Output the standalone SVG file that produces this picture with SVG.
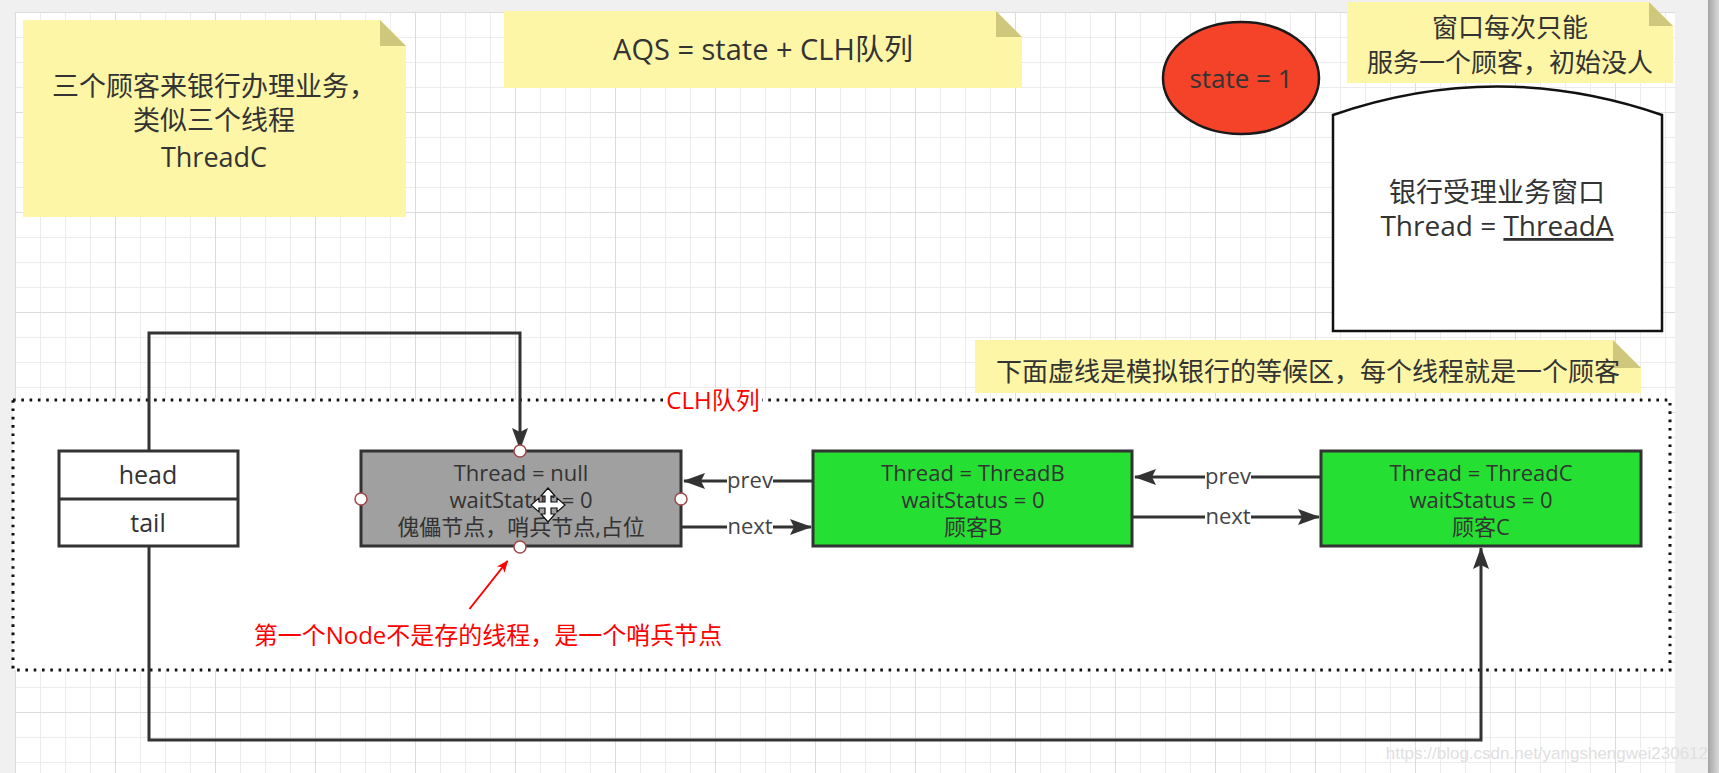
<svg xmlns="http://www.w3.org/2000/svg" width="1719" height="773" viewBox="0 0 1719 773">
<defs>
<pattern id="grid" x="15" y="12" width="100" height="100" patternUnits="userSpaceOnUse">
<path d="M25.5 0V100M50.5 0V100M75.5 0V100M0 25.5H100M0 50.5H100M0 75.5H100" stroke="#ececec" stroke-width="1" fill="none"/>
<path d="M0.5 0V100M0 0.5H100" stroke="#dcdcdc" stroke-width="1" fill="none"/>
</pattern>
<linearGradient id="edge" x1="0" x2="1" y1="0" y2="0"><stop offset="0" stop-color="#a4a4a4"/><stop offset="1" stop-color="#dadada"/></linearGradient>
<marker id="arr" viewBox="0 0 22 16" refX="21" refY="8" markerWidth="22" markerHeight="16" markerUnits="userSpaceOnUse" orient="auto"><path d="M0 0L22 8L0 16L4 8Z" fill="#333"/></marker>
<marker id="rarr" viewBox="0 0 12 10" refX="11" refY="5" markerWidth="12" markerHeight="10" markerUnits="userSpaceOnUse" orient="auto"><path d="M0 0L12 5L0 10L3 5Z" fill="#f00"/></marker>
<style>
.note{fill:#fdf6a7}
.fold{fill:#cfc77c}
.t{font-family:"Open Sans","Noto Sans CJK SC",sans-serif;fill:#333;text-anchor:middle}
.big{font-size:26px}
.mid{font-size:22px}
.node{stroke:#333;stroke-width:3}
.conn{fill:none;stroke:#333;stroke-width:3}
.lbl{font-family:"Open Sans","Noto Sans CJK SC",sans-serif;font-size:22px;fill:#444;text-anchor:middle}
.lblbg{fill:#fff}
.h{fill:#fff;stroke:#a04848;stroke-width:1.5}
.red{font-family:"Open Sans","Noto Sans CJK SC",sans-serif;fill:#f00;text-anchor:middle}
</style>
</defs>
<rect x="0" y="0" width="1719" height="773" fill="#f0f0f0"/>
<rect x="15" y="12" width="1660" height="761" fill="#fff"/>
<rect x="15" y="12" width="1660" height="761" fill="url(#grid)"/>
<rect x="1708" y="0" width="11" height="773" fill="url(#edge)"/>

<g id="clh-area">
<rect x="13" y="400" width="1657" height="270" fill="#fff" stroke="#111" stroke-width="3" stroke-dasharray="2.6 5.7"/>
<rect x="664" y="388" width="98" height="24" fill="#fff"/>
<text class="red" x="713" y="409" font-size="24">CLH队列</text>
</g>

<g id="note-customers">
<path class="note" d="M23 20H380L406 46V217H23Z"/>
<path class="fold" d="M380 20V46H406Z"/>
<text class="t" x="214" y="96" font-size="27">三个顾客来银行办理业务，</text>
<text class="t" x="214" y="130" font-size="27">类似三个线程</text>
<text class="t" x="214" y="167" font-size="27">ThreadC</text>
</g>

<g id="note-aqs">
<path class="note" d="M504 11H996L1022 37V88H504Z"/>
<path class="fold" d="M996 11V37H1022Z"/>
<text class="t" x="763" y="60" font-size="29">AQS = state + CLH队列</text>
</g>

<g id="state">
<ellipse cx="1241" cy="78" rx="78" ry="56" fill="#f5432a" stroke="#1a1a1a" stroke-width="2.5"/>
<text class="t" x="1241" y="88" font-size="26" fill="#3a2a22">state = 1</text>
</g>

<g id="note-window">
<path class="note" d="M1347 2H1649L1673 26V83H1347Z"/>
<path class="fold" d="M1649 2V26H1673Z"/>
<text class="t big" x="1510" y="37">窗口每次只能</text>
<text class="t big" x="1510" y="72">服务一个顾客，初始没人</text>
</g>

<g id="bank-window">
<path d="M1333 331V115Q1497 58 1662 115V331Z" fill="#fff" stroke="#111" stroke-width="2.5"/>
<text class="t" x="1497" y="202" font-size="27">银行受理业务窗口</text>
<text class="t" x="1497" y="236" font-size="28">Thread = <tspan text-decoration="underline">ThreadA</tspan></text>
</g>

<g id="note-waiting">
<path class="note" d="M975 340H1613L1641 368V393H975Z"/>
<path class="fold" d="M1613 340V368H1641Z"/>
<text class="t big" x="1308" y="381">下面虚线是模拟银行的等候区，每个线程就是一个顾客</text>
</g>

<g id="head-tail">
<rect class="node" x="59" y="451" width="179" height="95" fill="#fff"/>
<line x1="59" y1="499" x2="238" y2="499" stroke="#333" stroke-width="3"/>
<text class="t" x="148" y="484" font-size="25">head</text>
<text class="t" x="148" y="532" font-size="25">tail</text>
</g>

<g id="connectors">
<path class="conn" d="M149 451V333H520V449" marker-end="url(#arr)"/>
<path class="conn" d="M149 546V740H1481V548" marker-end="url(#arr)"/>
<line class="conn" x1="812" y1="481" x2="684" y2="481" marker-end="url(#arr)"/>
<line class="conn" x1="681" y1="527" x2="811" y2="527" marker-end="url(#arr)"/>
<line class="conn" x1="1320" y1="477" x2="1135" y2="477" marker-end="url(#arr)"/>
<line class="conn" x1="1133" y1="517" x2="1319" y2="517" marker-end="url(#arr)"/>
<rect class="lblbg" x="727" y="470" width="46" height="24"/>
<text class="lbl" x="750" y="488">prev</text>
<rect class="lblbg" x="727" y="516" width="46" height="24"/>
<text class="lbl" x="750" y="534">next</text>
<rect class="lblbg" x="1205" y="466" width="46" height="24"/>
<text class="lbl" x="1228" y="484">prev</text>
<rect class="lblbg" x="1205" y="506" width="46" height="24"/>
<text class="lbl" x="1228" y="524">next</text>
<line x1="469.5" y1="609" x2="507.5" y2="561" stroke="#f00" stroke-width="2" marker-end="url(#rarr)"/>
</g>

<g id="node-sentinel">
<rect class="node" x="361" y="451" width="320" height="95" fill="#a0a0a0"/>
<text class="t mid" x="521" y="481" fill="#505050">Thread = null</text>
<text class="t mid" x="521" y="508" fill="#505050">waitStatus = 0</text>
<text class="t mid" x="521" y="535" fill="#505050">傀儡节点，哨兵节点,占位</text>
<circle class="h" cx="520" cy="451" r="6"/>
<circle class="h" cx="520" cy="547" r="6"/>
<circle class="h" cx="361" cy="499" r="6"/>
<circle class="h" cx="681" cy="499" r="6"/>
<path d="M548 488L555 496H551V502H557V498L565 505L557 512V508H551V514H555L548 522L541 514H545V508H539V512L531 505L539 498V502H545V496H541Z" fill="#fff" stroke="#111" stroke-width="1.2"/>
</g>

<g id="node-b">
<rect class="node" x="813" y="451" width="319" height="95" fill="#25e033"/>
<text class="t mid" x="973" y="481">Thread = ThreadB</text>
<text class="t mid" x="973" y="508">waitStatus = 0</text>
<text class="t mid" x="973" y="535">顾客B</text>
</g>

<g id="node-c">
<rect class="node" x="1321" y="451" width="320" height="95" fill="#25e033"/>
<text class="t mid" x="1481" y="481">Thread = ThreadC</text>
<text class="t mid" x="1481" y="508">waitStatus = 0</text>
<text class="t mid" x="1481" y="535">顾客C</text>
</g>

<g id="annotation">
<text class="red" x="488" y="644" font-size="24">第一个Node不是存的线程，是一个哨兵节点</text>
</g>

<text x="1708" y="759" font-family="Liberation Sans, sans-serif" font-size="17" fill="#e0e0e0" text-anchor="end">https://blog.csdn.net/yangshengwei230612</text>
</svg>
